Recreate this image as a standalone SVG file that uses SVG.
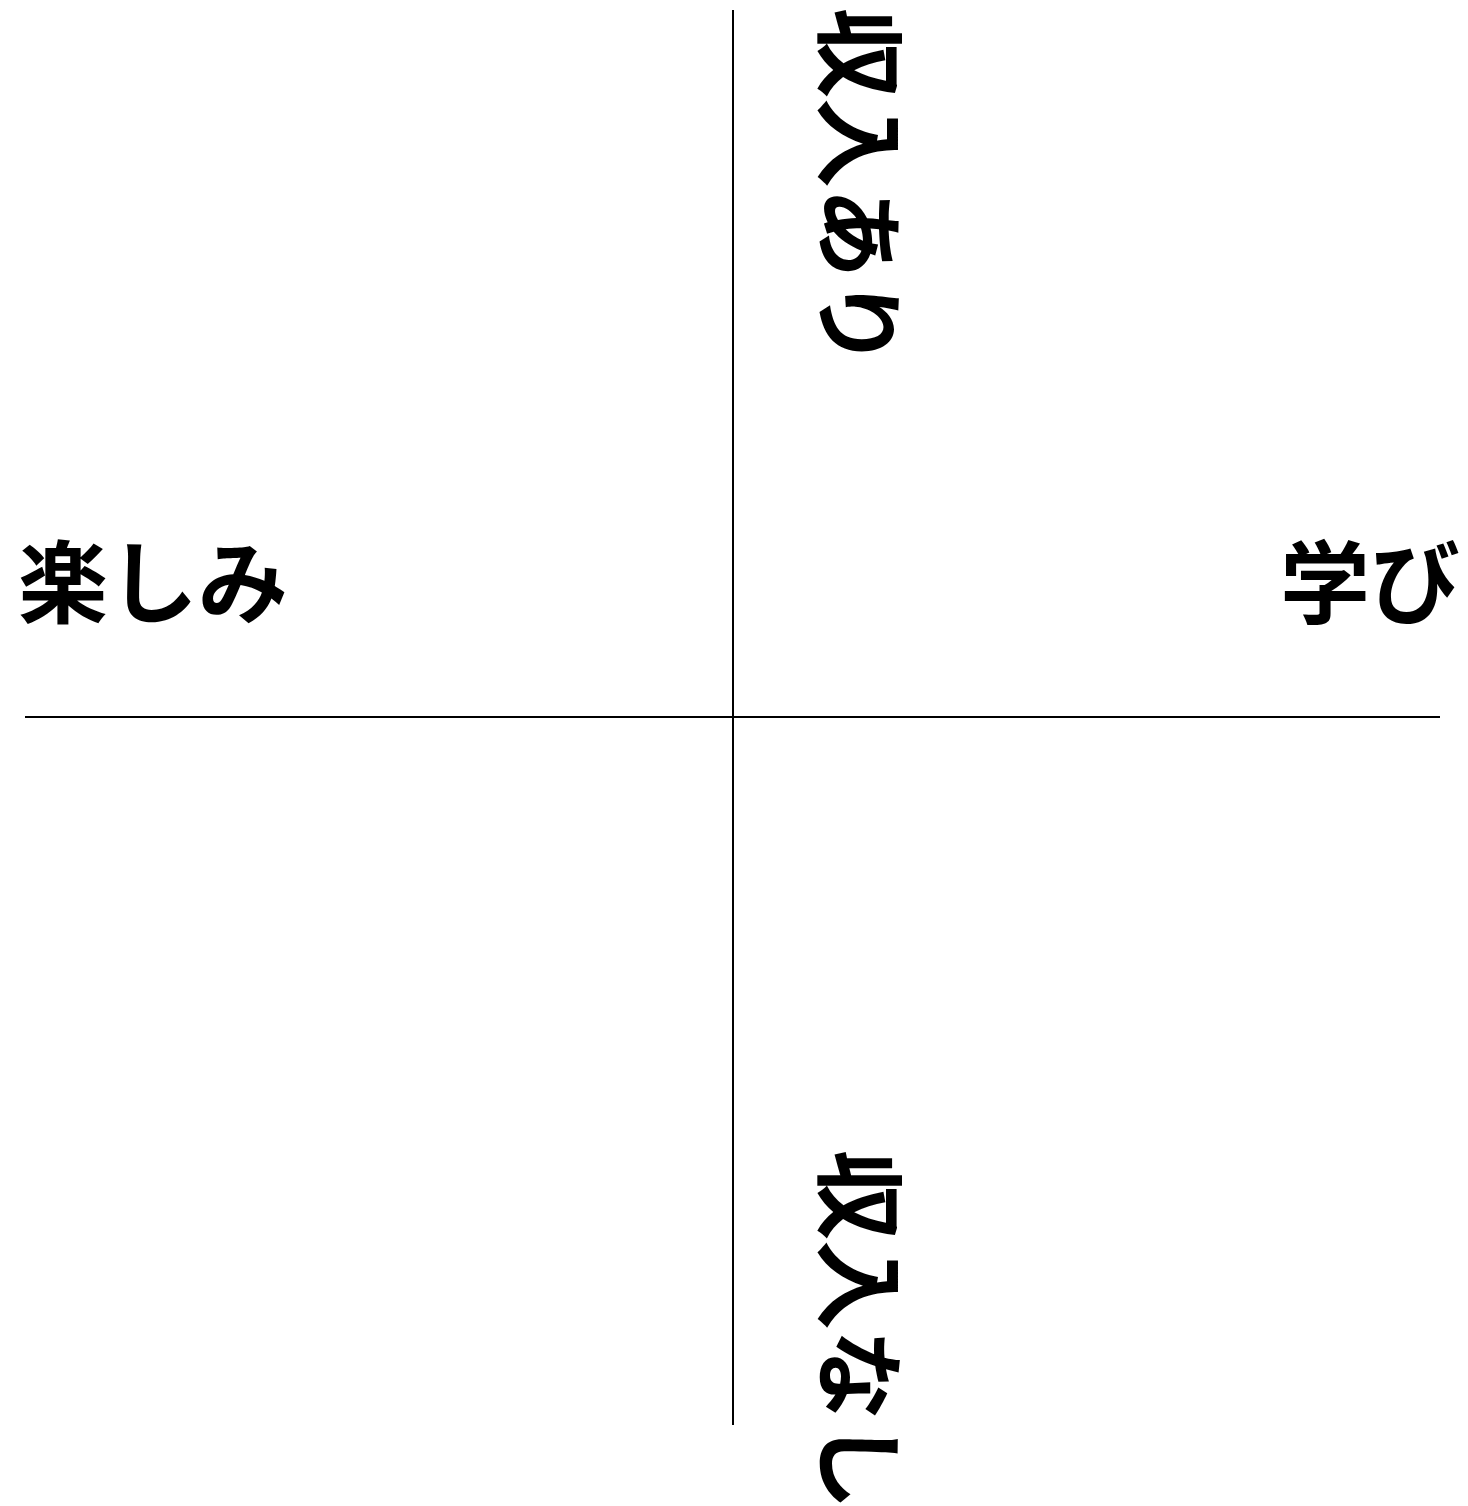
<svg xmlns="http://www.w3.org/2000/svg" width="1468" height="1506" viewBox="0 0 1468 1506">
<style>
.lbl{font-family:"Noto Sans CJK JP","Noto Sans CJK SC",sans-serif;font-size:90px;font-weight:bold;fill:#000}
.ax{stroke:#000;stroke-width:2;fill:none}
</style>
<rect width="1468" height="1506" fill="#fff"/>
<g id="connectors">
<line class="ax" x1="733" y1="10" x2="733" y2="1425"/>
<line class="ax" x1="25" y1="717" x2="1440" y2="717"/>
</g>
<g id="top"><text class="lbl" transform="translate(826,8) rotate(90)">収入あり</text></g>
<g id="bottom"><text class="lbl" transform="translate(826,1150) rotate(90)">収入なし</text></g>
<g id="left"><text class="lbl" x="18" y="616">楽しみ</text></g>
<g id="right"><text class="lbl" x="1460" y="616" text-anchor="end">学び</text></g>
</svg>
